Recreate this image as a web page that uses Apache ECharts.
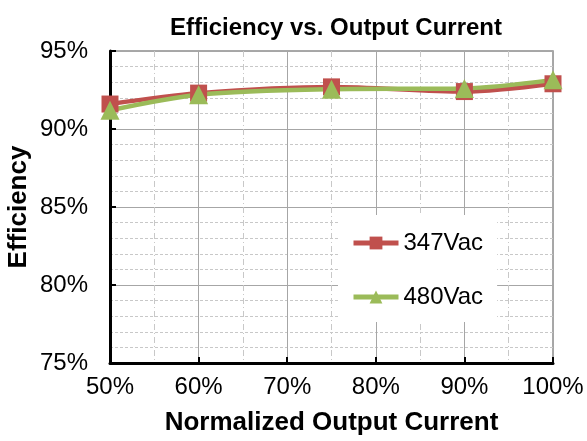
<!DOCTYPE html>
<html>
<head>
<meta charset="utf-8">
<script src="https://cdn.jsdelivr.net/npm/echarts@6/dist/echarts.min.js"></script>
<style>html,body{margin:0;padding:0;background:#fff}#c{width:587px;height:441px}</style>
</head>
<body>
<div id="c"></div>
<script>
const xValues = [50, 60, 75, 90, 100];
const series347 = [91.6, 92.3, 92.7, 92.4, 92.9];
const series480 = [91.2, 92.2, 92.55, 92.6, 93.15];
const seriesNames = ['347Vac', '480Vac'];

const chart = echarts.init(document.getElementById('c'));
const font = 'Liberation Sans, Arial, sans-serif';
chart.setOption({
  backgroundColor: '#fff',
  animation: false,
  title: {
    text: 'Efficiency vs. Output Current',
    left: 331, textAlign: 'center', top: 11,
    textStyle: {fontFamily: font, fontSize: 24, fontWeight: 'bold', color: '#000'}
  },
  grid: {left: 110, right: 34, top: 51, bottom: 78, show: true, borderColor: '#8c8c8c', borderWidth: 1.5,
         containLabel: false, outerBoundsMode: 'none'},
  legend: {
    orient: 'vertical', left: 338, top: 215,
    itemWidth: 45, itemHeight: 16, itemGap: 30,
    backgroundColor: '#fff', padding: [16, 14, 13, 13],
    lineStyle: {width: 5},
    textStyle: {fontFamily: font, fontSize: 24, color: '#000'},
    data: seriesNames
  },
  xAxis: {
    type: 'value', min: 50, max: 100, interval: 10,
    name: 'Normalized Output Current', nameLocation: 'middle', nameGap: 47, nameMoveOverlap: false,
    nameTextStyle: {fontFamily: font, fontSize: 26, fontWeight: 'bold', color: '#000'},
    axisLine: {show: true, lineStyle: {color: '#000', width: 3}},
    axisTick: {show: true, inside: true, length: 6, lineStyle: {color: '#000', width: 2}},
    axisLabel: {formatter: '{value}%', fontFamily: font, fontSize: 24, color: '#000', margin: 12},
    splitLine: {show: true, lineStyle: {color: '#a6a6a6', width: 1}},
    minorTick: {show: false, splitNumber: 2},
    minorSplitLine: {show: true, lineStyle: {color: '#c8c8c8', width: 1, type: [6, 3, 1, 3]}}
  },
  yAxis: {
    type: 'value', min: 75, max: 95, interval: 5,
    name: 'Efficiency', nameLocation: 'middle', nameGap: 78, nameMoveOverlap: false,
    nameTextStyle: {fontFamily: font, fontSize: 26, fontWeight: 'bold', color: '#000'},
    axisLine: {show: true, lineStyle: {color: '#000', width: 3}},
    axisTick: {show: true, inside: true, length: 6, lineStyle: {color: '#000', width: 2}},
    axisLabel: {formatter: '{value}%', fontFamily: font, fontSize: 24, color: '#000', margin: 22},
    splitLine: {show: true, lineStyle: {color: '#a6a6a6', width: 1}},
    minorTick: {show: false, splitNumber: 5},
    minorSplitLine: {show: true, lineStyle: {color: '#c8c8c8', width: 1, type: [3, 2]}}
  },
  series: [
    {
      name: seriesNames[0], type: 'line', smooth: 0.3,
      data: xValues.map((x, i) => [x, series347[i]]),
      symbol: 'rect', symbolSize: 17,
      lineStyle: {color: '#c0504d', width: 4.5},
      itemStyle: {color: '#c0504d'}
    },
    {
      name: seriesNames[1], type: 'line', smooth: 0.3,
      data: xValues.map((x, i) => [x, series480[i]]),
      symbol: 'triangle', symbolSize: 19,
      lineStyle: {color: '#9bbb59', width: 4.5},
      itemStyle: {color: '#9bbb59'}
    }
  ]
});
</script>
</body>
</html>
